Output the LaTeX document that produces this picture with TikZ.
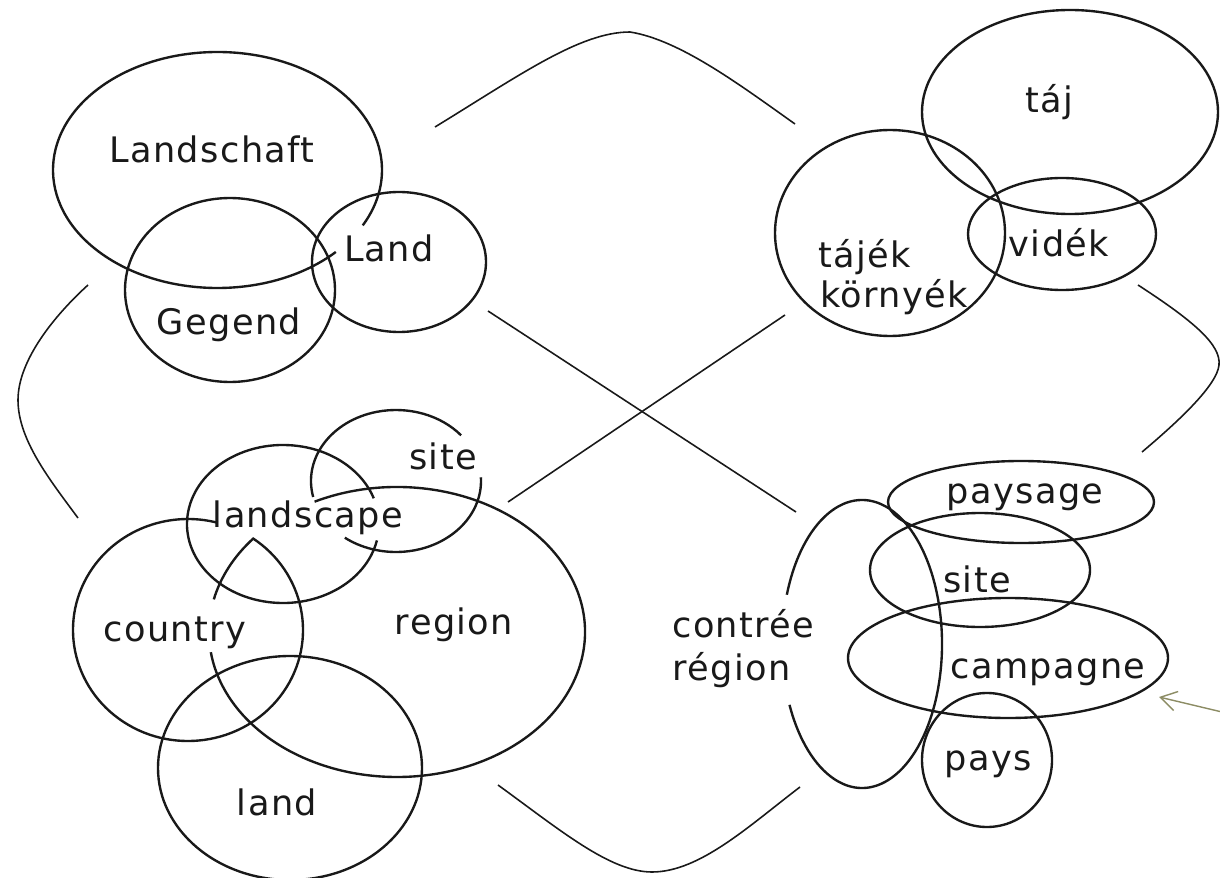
\documentclass[tikz,border=0pt]{standalone}
\usepackage{fontspec}
\newfontfamily\labfont[LetterSpace=4]{DejaVu Sans}
\usetikzlibrary{arrows.meta}
\definecolor{linec}{RGB}{25,25,25}
\definecolor{textc}{RGB}{25,25,25}
\definecolor{arrowc}{RGB}{140,140,100}
\newcommand\lbf{\labfont\fontsize{20}{24}\selectfont}
\tikzset{
  ring/.style={draw=linec, line width=1.35pt},
  conn/.style={draw=linec, line width=0.9pt},
  lab/.style={font=\lbf, text=textc, inner sep=0pt, anchor=base},
  labl/.style={lab, anchor=base west},
}
\begin{document}
\begin{tikzpicture}[x=0.02cm, y=-0.02cm]
\useasboundingbox (0,0) rectangle (1220,878);
\fill[white] (0,0) rectangle (1220,878);

% ---------- top-left cluster (German)
\draw[ring] (217.5,170) ++(44:164.5 and 118) arc[start angle=44, end angle=388, x radius=164.5, y radius=118];
\draw[ring] (399,262) ellipse[x radius=87, y radius=70];
\draw[ring] (230,290) ellipse[x radius=105, y radius=92];
\node[lab] (landschaft) at (212,163) {Landschaft};
\node[lab] (landDE) at (389,262) {Land};
\node[lab] (gegend) at (229,335) {Gegend};

% ---------- top-right cluster (Hungarian)
\draw[ring] (1070,112) ellipse[x radius=148, y radius=102];
\draw[ring] (890,233) ellipse[x radius=115, y radius=103];
\draw[ring] (1062,234) ellipse[x radius=94, y radius=56];
\node[lab] (taj) at (1049,113) {táj};
\node[labl] (tajek) at (818,268) {tájék};
\node[labl] (kornyek) at (820,308) {környék};
\node[lab] (videk) at (1059,257) {vidék};

% ---------- bottom-left cluster (English)
\draw[ring] (396,481) ++(-3:85 and 71) arc[start angle=-3, end angle=127, x radius=85, y radius=71];
\draw[ring] (396,481) ++(167:85 and 71) arc[start angle=167, end angle=320, x radius=85, y radius=71];
\draw[ring] (283,524) ++(12:96 and 79) arc[start angle=12, end angle=341, x radius=96, y radius=79];
\draw[ring] (188,630) ++(-56:115 and 111) arc[start angle=-56, end angle=285, x radius=115, y radius=111];
\draw[ring] (397,632) ++(244:188 and 145) arc[start angle=244, end angle=532, x radius=188, y radius=145];
\draw[ring] (397,632) ++(193:188 and 145) arc[start angle=193, end angle=220, x radius=188, y radius=145];
\draw[ring] (290,768) ellipse[x radius=132, y radius=112];
\node[lab] (siteEN) at (443,469) {site};
\node[lab] (landscape) at (308,527) {landscape};
\node[lab] (country) at (175,641) {country};
\node[lab] (region) at (454,634) {region};
\node[lab] (landEN) at (277,815) {land};

% ---------- bottom-right cluster (French)
\draw[ring] (1021,502) ellipse[x radius=133, y radius=41];
\draw[ring] (980,570) ellipse[x radius=110, y radius=57];
\draw[ring] (1008,658) ellipse[x radius=160, y radius=60];
\draw[ring] (987,760) ellipse[x radius=65, y radius=67];
\draw[ring] (862,644) ++(200:80 and 144) arc[start angle=200, end angle=515, x radius=80, y radius=144];
\node[labl] (contree) at (672,637) {contrée};
\node[labl] (regionFR) at (672,680) {région};
\node[lab] (paysage) at (1025,503) {paysage};
\node[lab] (siteFR) at (977,592) {site};
\node[lab] (campagne) at (1048,678) {campagne};
\node[lab] (pays) at (988,770) {pays};

% ---------- connectors
\coordinate (tA) at (435,127);
\coordinate (tP) at (630,32);
\coordinate (tB) at (795,124);
\draw[conn] (tA) .. controls (520,75) and (580,32) .. (tP) .. controls (680,40) and (740,85) .. (tB);

\coordinate (lA) at (88,285);
\coordinate (lP) at (18,400);
\coordinate (lB) at (78,518);
\draw[conn] (lA) .. controls (55,315) and (18,360) .. (lP) .. controls (18,440) and (50,480) .. (lB);

\coordinate (rA) at (1138,285);
\coordinate (rP) at (1219,365);
\coordinate (rB) at (1142,452);
\draw[conn] (rA) .. controls (1195,322) and (1221,345) .. (rP) .. controls (1217,385) and (1180,420) .. (rB);

\coordinate (bA) at (498,785);
\coordinate (bP) at (652,872);
\coordinate (bB) at (800,787);
\draw[conn] (bA) .. controls (560,830) and (610,872) .. (bP) .. controls (700,872) and (750,825) .. (bB);

\coordinate (xA) at (488,311);
\coordinate (xB) at (796,512);
\coordinate (yA) at (508,502);
\coordinate (yB) at (785,315);
\draw[conn] (xA) -- (xB);
\draw[conn] (yA) -- (yB);

\coordinate (arS) at (1222,712);
\coordinate (arE) at (1159,697);
\draw[draw=arrowc, line width=0.8pt, -{Straight Barb[length=3.2mm, width=3.9mm]}] (arS) -- (arE);
\end{tikzpicture}
\end{document}
